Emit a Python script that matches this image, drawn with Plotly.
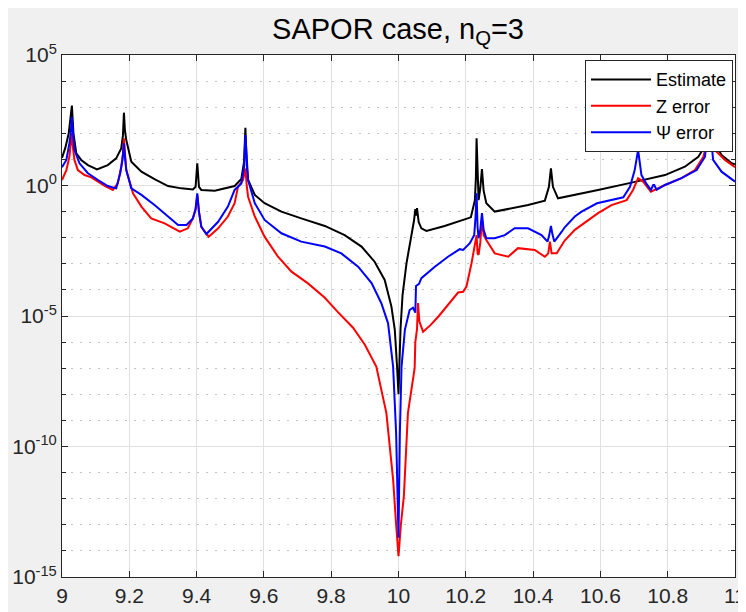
import plotly.graph_objects as go

# Data (x = frequency, values stored as log10 of the error)
est_x = [9.000, 9.010, 9.020, 9.025, 9.0294, 9.034, 9.0425, 9.057, 9.077, 9.104, 9.136, 9.161,
         9.176, 9.181, 9.184, 9.187, 9.191, 9.206, 9.236, 9.275, 9.315, 9.355, 9.389, 9.397,
         9.402, 9.407, 9.414, 9.454, 9.493, 9.513, 9.533, 9.541, 9.545, 9.549, 9.553, 9.573,
         9.602, 9.652, 9.711, 9.781, 9.840, 9.890, 9.929, 9.959, 9.979, 9.989, 9.996, 10.000,
         10.006, 10.012, 10.0237, 10.038, 10.046, 10.050, 10.052, 10.055, 10.060, 10.068, 10.083,
         10.137, 10.187, 10.215, 10.227, 10.230, 10.232, 10.235, 10.238, 10.243, 10.248, 10.253,
         10.261, 10.286, 10.336, 10.385, 10.435, 10.447, 10.453, 10.459, 10.474, 10.524, 10.593,
         10.693, 10.792, 10.851, 10.891, 10.916, 10.922, 10.928, 10.940, 10.960, 10.990, 11.000]
est_log = [1.06, 1.45, 2.0, 2.5, 3.06, 2.0, 1.23, 0.98, 0.78, 0.62, 0.78, 1.04,
           1.42, 1.9, 2.79, 2.1, 1.74, 0.91, 0.53, 0.24, -0.02, -0.11, -0.15, -0.05,
           0.85, -0.05, -0.17, -0.20, -0.10, -0.02, 0.25, 0.9, 2.21, 0.8, 0.21, -0.36,
           -0.68, -1.0, -1.26, -1.55, -1.90, -2.34, -2.92, -3.62, -4.64, -5.53, -7.0, -8.0,
           -5.5, -4.2, -2.98, -1.96, -1.35, -0.9, -1.15, -0.87, -1.4, -1.64, -1.74,
           -1.55, -1.35, -1.22, -0.56, 0.3, 1.81, 0.0, -0.56, -0.1, 0.63, -0.2,
           -0.68, -1.0, -0.87, -0.75, -0.58, -0.05, 0.66, -0.05, -0.49, -0.36, -0.17,
           0.11, 0.40, 0.72, 1.10, 1.62, 3.0, 1.9, 1.62, 1.17, 0.85, 0.81]

z_x = [9.000, 9.013, 9.022, 9.026, 9.029, 9.033, 9.037, 9.047, 9.067, 9.087, 9.102, 9.127,
       9.151, 9.166, 9.176, 9.181, 9.184, 9.187, 9.191, 9.211, 9.236, 9.265, 9.305, 9.350,
       9.374, 9.389, 9.397, 9.402, 9.407, 9.414, 9.436, 9.464, 9.493, 9.513, 9.523, 9.538,
       9.542, 9.545, 9.549, 9.553, 9.573, 9.602, 9.642, 9.682, 9.731, 9.781, 9.820, 9.865,
       9.900, 9.934, 9.964, 9.984, 9.993, 10.000, 10.007, 10.016, 10.028, 10.043, 10.048,
       10.050, 10.055, 10.058, 10.062, 10.073, 10.095, 10.120, 10.145, 10.177, 10.192, 10.202,
       10.217, 10.227, 10.232, 10.235, 10.238, 10.243, 10.248, 10.253, 10.261, 10.286, 10.326,
       10.355, 10.405, 10.435, 10.445, 10.450, 10.455, 10.470, 10.494, 10.524, 10.544, 10.593,
       10.633, 10.678, 10.697, 10.712, 10.727, 10.750, 10.792, 10.841, 10.881, 10.906, 10.916,
       10.922, 10.928, 10.940, 10.970, 11.000]
z_log = [0.21, 0.59, 1.10, 1.5, 2.0, 1.4, 0.98, 0.59, 0.40, 0.31, 0.18, -0.01,
         -0.17, 0.08, 0.72, 1.2, 1.81, 1.2, 0.59, -0.30, -0.81, -1.26, -1.45, -1.77,
         -1.64, -1.26, -0.9, -0.36, -1.0, -1.58, -1.96, -1.64, -1.19, -0.68, -0.05, 0.21,
         0.4, 0.65, 0.0, -0.43, -1.19, -1.96, -2.73, -3.30, -3.75, -4.3, -4.85, -5.45,
         -6.1, -6.94, -8.72, -11.27, -13.0, -14.2, -13.0, -11.9, -8.72, -7.3, -7.0,
         -6.0, -5.5, -4.5, -5.2, -5.60, -5.35, -5.0, -4.6, -4.10, -4.07, -3.87,
         -2.98, -2.21, -1.90, -2.6, -2.66, -2.2, -1.32, -1.9, -2.09, -2.60, -2.73,
         -2.40, -2.47, -2.73, -2.6, -2.15, -2.6, -2.60, -2.11, -1.70, -1.51, -1.06,
         -0.75, -0.56, -0.17, 0.28, 0.15, -0.24, 0.02, 0.28, 0.59, 1.10, 1.6,
         2.8, 1.9, 1.36, 0.98, 0.70]

psi_x = [9.000, 9.013, 9.022, 9.026, 9.029, 9.033, 9.037, 9.052, 9.077, 9.107, 9.136, 9.161,
         9.173, 9.180, 9.184, 9.187, 9.191, 9.206, 9.236, 9.275, 9.315, 9.345, 9.370, 9.389,
         9.397, 9.402, 9.407, 9.414, 9.429, 9.464, 9.493, 9.513, 9.533, 9.541, 9.545, 9.549,
         9.553, 9.573, 9.602, 9.652, 9.711, 9.781, 9.830, 9.880, 9.920, 9.949, 9.969, 9.984,
         9.993, 10.000, 10.004, 10.009, 10.019, 10.033, 10.043, 10.050, 10.052, 10.061, 10.068,
         10.108, 10.147, 10.182, 10.192, 10.212, 10.225, 10.229, 10.232, 10.235, 10.238, 10.243,
         10.248, 10.253, 10.261, 10.286, 10.316, 10.345, 10.385, 10.425, 10.443, 10.448, 10.453,
         10.458, 10.463, 10.485, 10.494, 10.524, 10.544, 10.590, 10.633, 10.668, 10.688, 10.702,
         10.712, 10.722, 10.737, 10.750, 10.757, 10.760, 10.767, 10.792, 10.841, 10.886, 10.911,
         10.922, 10.935, 10.960, 11.000]
psi_log = [0.70, 0.98, 1.62, 2.0, 2.63, 1.9, 1.36, 0.85, 0.47, 0.21, -0.02, -0.11,
           0.47, 1.0, 1.62, 1.1, 0.59, -0.11, -0.36, -0.75, -1.19, -1.51, -1.51, -1.26,
           -0.9, -0.30, -1.0, -1.58, -1.86, -1.39, -0.81, -0.17, 0.08, 0.7, 1.93, 0.8,
           0.21, -0.68, -1.32, -1.83, -2.15, -2.34, -2.60, -3.11, -3.74, -4.51, -5.28, -6.94,
           -9.5, -13.5, -9.5, -6.94, -5.53, -4.77, -4.68, -4.87, -3.85, -3.77, -3.55,
           -3.11, -2.73, -2.44, -2.47, -2.21, -1.90, -1.2, -0.30, -1.6, -2.02, -1.7,
           -1.06, -1.7, -2.02, -2.02, -1.90, -1.64, -1.64, -1.90, -2.15, -1.9, -1.55,
           -1.9, -2.15, -1.77, -1.6, -1.19, -1.0, -0.68, -0.56, -0.45, -0.05, 0.59,
           1.36, 0.40, 0.06, -0.17, 0.02, 0.02, -0.17, 0.02, 0.28, 0.59, 1.10,
           2.8, 0.98, 0.53, 0.15]

y_tickvals = [1e-15, 1e-10, 1e-5, 1e0, 1e5]
y_ticktext = ["10<sup>-15</sup>", "10<sup>-10</sup>", "10<sup>-5</sup>", "10<sup>0</sup>", "10<sup>5</sup>"]
y_minor = [10.0 ** k for k in range(-15, 6) if k % 5 != 0]

font = "Liberation Sans, Arial, sans-serif"

fig = go.Figure()
fig.add_trace(go.Scatter(x=est_x, y=[10 ** v for v in est_log], mode="lines", name="Estimate",
                         line=dict(color="#000000", width=2)))
fig.add_trace(go.Scatter(x=z_x, y=[10 ** v for v in z_log], mode="lines", name="Z error",
                         line=dict(color="#ff0000", width=2)))
fig.add_trace(go.Scatter(x=psi_x, y=[10 ** v for v in psi_log], mode="lines", name="\u03a8 error",
                         line=dict(color="#0000ff", width=2)))

# the page puts an 8px body margin round the figure, so the figure is 8px smaller
fig.update_layout(
    width=738, height=604,
    margin=dict(l=54, r=11, t=47, b=35),
    paper_bgcolor="#f0f0f0",
    plot_bgcolor="#ffffff",
    font=dict(family=font, size=21, color="#262626"),
    title=dict(text="SAPOR case, n<sub>Q</sub>=3", x=0.5285, xanchor="center",
               y=0.965, yanchor="middle", yref="container",
               font=dict(family=font, size=29, color="#000000")),
    legend=dict(x=0.997, y=0.99, xanchor="right", yanchor="top",
                bgcolor="#ffffff", bordercolor="#262626", borderwidth=1,
                font=dict(family=font, size=18, color="#000000"),
                tracegroupgap=0, itemwidth=60),
    showlegend=True,
)

fig.update_xaxes(range=[9, 11], dtick=0.2, tick0=9, showgrid=True, gridcolor="#e0e0e0",
                 gridwidth=1, zeroline=False, showline=True, linecolor="#262626", linewidth=1,
                 mirror="ticks", ticks="inside", ticklen=6, tickcolor="#262626",
                 automargin=False)
fig.update_yaxes(type="log", range=[-15, 5], tickmode="array", tickvals=y_tickvals,
                 ticktext=y_ticktext, showgrid=True, gridcolor="#e0e0e0", gridwidth=1,
                 zeroline=False, showline=True, linecolor="#262626", linewidth=1,
                 mirror="ticks", ticks="inside", ticklen=6, tickcolor="#262626",
                 automargin=False,
                 minor=dict(tickmode="array", tickvals=y_minor, showgrid=True,
                            griddash="2px,7px", gridcolor="#c4c4c4", gridwidth=1,
                            ticks="inside", ticklen=4, tickcolor="#262626"))

fig.write_html("out.html")
